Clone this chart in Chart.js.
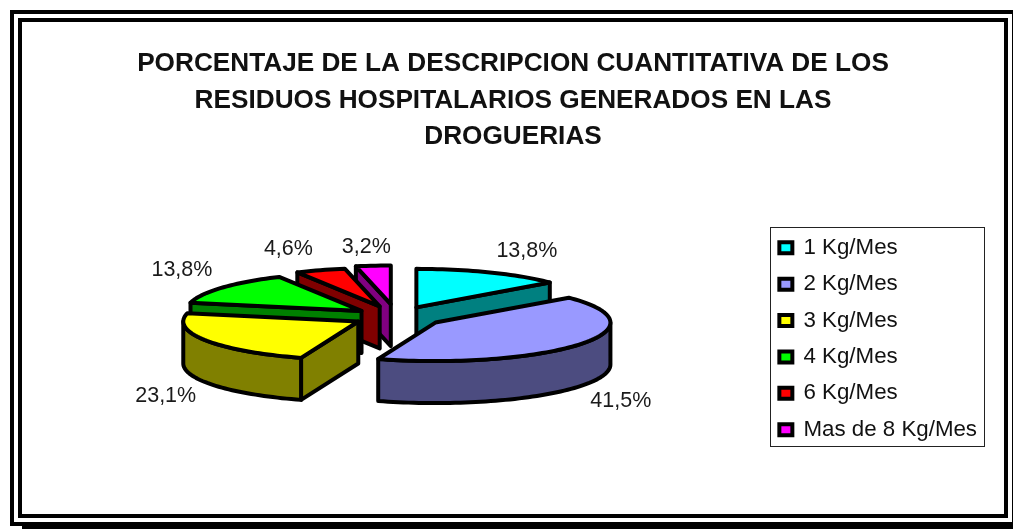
<!DOCTYPE html>
<html><head><meta charset="utf-8">
<style>
html,body{margin:0;padding:0;background:#fff;width:1013px;height:529px;overflow:hidden}
.f{position:absolute;box-sizing:border-box;border:4px solid #000}
#outer{left:10px;top:10px;width:1006px;height:516px}
#inner{left:18px;top:18px;width:990px;height:500px}
#shadow{position:absolute;left:22px;top:526px;width:991px;height:3px;background:#000}
canvas{position:absolute;left:22px;top:22px}
</style>
<script src="https://cdn.jsdelivr.net/npm/chart.js@4"></script>
</head><body>
<div class="f" id="outer"></div><div class="f" id="inner"></div><div id="shadow"></div>
<canvas id="c" width="982" height="492"></canvas>
<script>
const titleLines=["PORCENTAJE DE LA DESCRIPCION CUANTITATIVA DE LOS","RESIDUOS HOSPITALARIOS GENERADOS EN LAS","DROGUERIAS"];
const categories=["1 Kg/Mes","2 Kg/Mes","3 Kg/Mes","4 Kg/Mes","6 Kg/Mes","Mas de 8 Kg/Mes"];
const percentages=[13.8,41.5,23.1,13.8,4.6,3.2];
const topColors=["#00FFFF","#9999FF","#FFFF00","#00FF00","#FF0000","#FF00FF"];
const sideColors=["#008080","#4C4C80","#808000","#008000","#800000","#800080"];
const explode=[47,47,44,44,50,58];
const drawOrder=[5,4,0,3,2,1];
const labelNudge=[[37,-21],[41,57],[-40,56],[-40,-18],[-32,-21],[-7,-19]];
const FLAT=0.22, DEPTH=42, LIFT=-22, SHIFT=-5.5, INK="#000";

function pt(a,theta,r){
  const mid=(a.startAngle+a.endAngle)/2, off=a.options.offset;
  return {x:a.x+SHIFT+off*Math.cos(mid)+r*Math.cos(theta),
          y:a.y+LIFT+FLAT*(off*Math.sin(mid)+r*Math.sin(theta))};
}
function poly(ctx,pts,fill){
  ctx.beginPath();pts.forEach((p,i)=>i?ctx.lineTo(p.x,p.y):ctx.moveTo(p.x,p.y));ctx.closePath();
  ctx.fillStyle=fill;ctx.fill();ctx.stroke();
}
function wall(ctx,chain,fill){
  const low=chain.slice().reverse().map(p=>({x:p.x,y:p.y+DEPTH}));
  poly(ctx,chain.concat(low),fill);
}
const pie3d={id:"pie3d",
  beforeDatasetDraw(chart){
    const ctx=chart.ctx,arcs=chart.getDatasetMeta(0).data;
    ctx.save();ctx.lineWidth=4;ctx.lineJoin="round";ctx.strokeStyle=INK;
    drawOrder.forEach(i=>{
      const a=arcs[i],R=a.outerRadius,s=a.startAngle,e=a.endAngle;
      const apex=pt(a,0,0);
      const rim=[];const n=Math.max(4,Math.ceil((e-s)/0.03));
      for(let k=0;k<=n;k++){const t=s+(e-s)*k/n;rim.push(pt(a,t,R));}
      if(Math.cos(s)<0)wall(ctx,[apex,pt(a,s,R)],sideColors[i]);
      if(Math.cos(e)>0)wall(ctx,[pt(a,e,R),apex],sideColors[i]);
      const lo=Math.max(s,0),hi=Math.min(e,Math.PI);
      if(hi>lo){
        const c=[];const m=Math.ceil((hi-lo)/0.03);
        for(let k=0;k<=m;k++)c.push(pt(a,lo+(hi-lo)*k/m,R));
        wall(ctx,c,sideColors[i]);
      }
      poly(ctx,[apex].concat(rim),topColors[i]);
    });
    ctx.fillStyle="#1a1a1a";ctx.font="21.5px 'Liberation Sans'";ctx.textAlign="center";ctx.textBaseline="middle";
    arcs.forEach((a,i)=>{
      const p=pt(a,(a.startAngle+a.endAngle)/2,a.outerRadius);
      ctx.fillText(percentages[i].toFixed(1).replace(".",",")+"%",p.x+labelNudge[i][0],p.y+labelNudge[i][1]);
    });
    ctx.restore();
    return false;
  },
  afterDraw(chart){
    const l=chart.legend,ctx=chart.ctx;
    ctx.save();ctx.strokeStyle="#222";ctx.lineWidth=1;
    ctx.strokeRect(Math.round(l.left)+5.5,Math.round(l.top+l.height/2)-111.5,214,219);
    ctx.restore();
  }
};
new Chart(document.getElementById("c"),{
  type:"pie",
  data:{labels:categories,datasets:[{data:percentages,backgroundColor:topColors,borderColor:INK,borderWidth:4,offset:explode,hoverOffset:0}]},
  plugins:[pie3d],
  options:{
    responsive:false,animation:false,radius:175,
    layout:{padding:{left:17,right:17,top:0,bottom:2}},
    plugins:{
      tooltip:{enabled:false},
      title:{display:true,text:titleLines,color:"#111",font:{family:"'Liberation Sans'",size:26.2,weight:"bold",lineHeight:1.393},padding:{top:24,bottom:10}},
      legend:{position:"right",fullSize:false,labels:{color:"#111",font:{family:"'Liberation Sans'",size:22.3},boxWidth:13,boxHeight:11,padding:14.1}}
    }
  }
});
</script>
</body></html>
